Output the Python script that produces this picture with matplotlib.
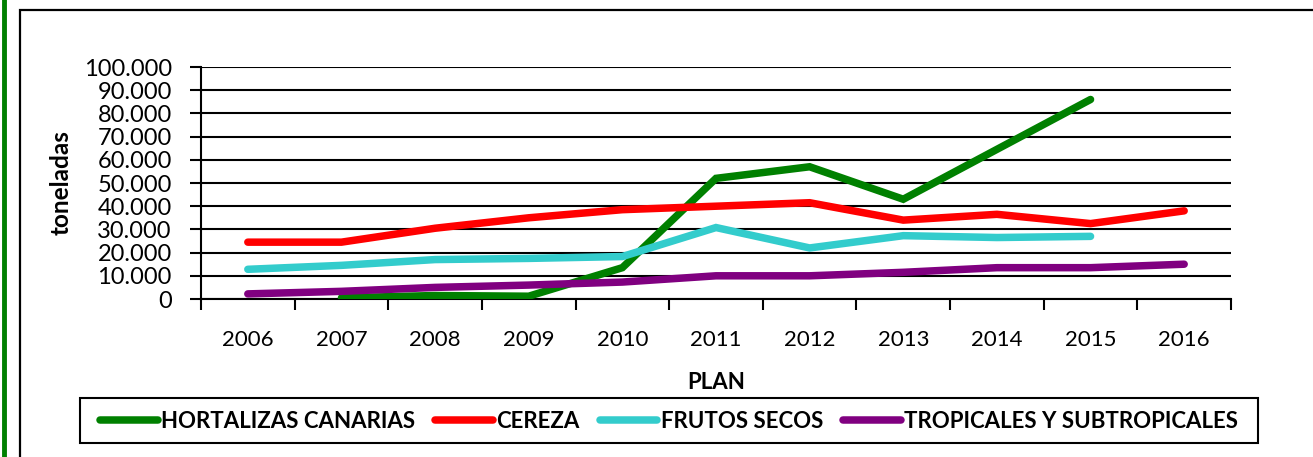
import matplotlib
matplotlib.use("Agg")
import matplotlib.pyplot as plt
from matplotlib.patches import Rectangle
from matplotlib.lines import Line2D
from matplotlib.ticker import FuncFormatter, FixedLocator
import numpy as np

plt.rcParams['font.family'] = ['Lato', 'DejaVu Sans']

years = ['2006', '2007', '2008', '2009', '2010', '2011', '2012', '2013', '2014', '2015', '2016']
hortalizas = [None, 500, 1500, 1200, 13500, 52000, 57000, 43000, 64500, 86000, None]
cereza = [24500, 24500, 30500, 35000, 38500, 40000, 41500, 34000, 36500, 32500, 38000]
frutos = [12800, 14500, 17000, 17500, 18300, 30800, 22000, 27300, 26500, 27000, None]
tropicales = [2200, 3300, 5000, 6000, 7300, 10000, 10000, 11500, 13500, 13500, 15000]

series = [
    ('HORTALIZAS CANARIAS', hortalizas, '#008000'),
    ('CEREZA', cereza, '#FF0000'),
    ('FRUTOS SECOS', frutos, '#33CCCC'),
    ('TROPICALES Y SUBTROPICALES', tropicales, '#800080'),
]

W, H = 1313, 457
fig = plt.figure(figsize=(W / 100, H / 100), dpi=100)

# outer frame and green left border
fig.add_artist(Rectangle((20 / W, -0.2), 1.5, (H - 10) / H + 0.2, transform=fig.transFigure,
                         fill=False, edgecolor='black', linewidth=1.6))
fig.add_artist(Line2D([4 / W, 4 / W], [0, 1], transform=fig.transFigure,
                      color='#008000', linewidth=3.5))

x0, x1 = 201, 1231
y0, y1 = 67, 299
ax = fig.add_axes([x0 / W, (H - y1) / H, (x1 - x0) / W, (y1 - y0) / H])

xs = np.arange(len(years))
for name, vals, col in series:
    v = np.array([np.nan if a is None else a for a in vals], dtype=float)
    ax.plot(xs, v, color=col, linewidth=5.4, solid_capstyle='round',
            solid_joinstyle='miter', label=name, zorder=3)

ax.set_xlim(-0.5, len(years) - 0.5)
ax.set_ylim(0, 100000)
ax.set_yticks(np.arange(0, 100001, 10000))
ax.yaxis.set_major_formatter(FuncFormatter(lambda v, p: f"{int(v):,}".replace(',', '.')))
ax.grid(axis='y', color='black', linewidth=1.5, zorder=1)

ax.xaxis.set_major_locator(FixedLocator(np.arange(-0.5, len(years), 1.0)))
ax.xaxis.set_minor_locator(FixedLocator(xs))
ax.set_xticklabels([])
ax.set_xticklabels(years, minor=True)
ax.tick_params(axis='x', which='major', length=8, width=1.5, direction='out')
ax.tick_params(axis='x', which='minor', length=0, pad=22, labelsize=16)
ax.tick_params(axis='y', length=8, width=1.5, direction='out', labelsize=17, pad=13)

for s in ['top', 'right']:
    ax.spines[s].set_visible(False)
for s in ['left', 'bottom']:
    ax.spines[s].set_linewidth(1.5)

ax.set_ylabel('toneladas', fontsize=17.5, fontweight='bold', labelpad=8)
ax.set_xlabel('PLAN', fontsize=16, fontweight='bold', labelpad=16)

handles = [Line2D([0], [0], color=c, linewidth=5.4, solid_capstyle='round') for _, _, c in series]
labels = [n for n, _, _ in series]
leg = fig.legend(handles, labels, loc='center', ncol=4,
                 bbox_to_anchor=((80 + 1258) / 2 / W, (H - 421) / H),
                 prop={'weight': 'bold', 'size': 16}, frameon=False,
                 handlelength=2.6, handletextpad=0.15,
                 columnspacing=0.9, borderpad=0.35)
fig.add_artist(Rectangle((80 / W, (H - 443) / H), (1258 - 80) / W, 45 / H,
                         transform=fig.transFigure, fill=False, edgecolor='black',
                         linewidth=1.5))

fig.savefig('out.png', dpi=100)
